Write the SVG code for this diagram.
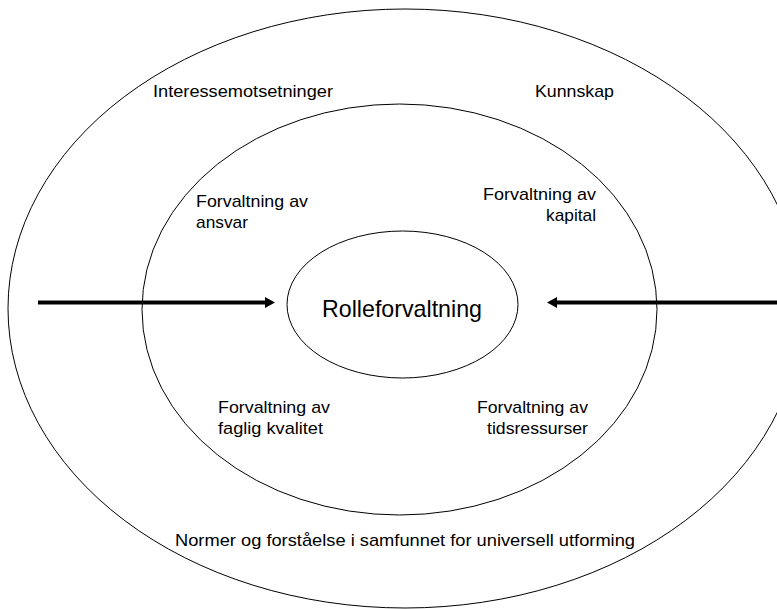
<svg xmlns="http://www.w3.org/2000/svg" width="777" height="609" viewBox="0 0 777 609">
  <style>
    .ring { fill: none; stroke: #000; stroke-width: 1; }
    .lbl { font-family: "Liberation Sans", Arial, sans-serif; font-size: 17px; fill: #000; }
    .big { font-family: "Liberation Sans", Arial, sans-serif; font-size: 24px; fill: #000; }
    .arrow { stroke: #000; stroke-width: 4; fill: none; }
  </style>
  <defs>
    <marker id="head" markerUnits="userSpaceOnUse" markerWidth="10" markerHeight="11" refX="2" refY="5.5" orient="auto">
      <path d="M0,0 L10,5.5 L0,11 z" fill="#000"/>
    </marker>
  </defs>
  <rect width="777" height="609" fill="#fff"/>

  <g id="outer">
    <ellipse class="ring" cx="405" cy="308.5" rx="397" ry="299.5"/>
    <text class="lbl" x="153" y="97" textLength="180" lengthAdjust="spacingAndGlyphs">Interessemotsetninger</text>
    <text class="lbl" x="535" y="97" textLength="79" lengthAdjust="spacingAndGlyphs">Kunnskap</text>
    <text class="lbl" x="175" y="546" textLength="460" lengthAdjust="spacingAndGlyphs">Normer og forståelse i samfunnet for universell utforming</text>
  </g>

  <g id="inner">
    <ellipse class="ring" cx="399.5" cy="309.5" rx="257.5" ry="205.5"/>
    <text class="lbl" x="196" y="207" textLength="112" lengthAdjust="spacingAndGlyphs">Forvaltning av</text>
    <text class="lbl" x="196" y="228" textLength="52" lengthAdjust="spacingAndGlyphs">ansvar</text>
    <text class="lbl" x="483" y="200" textLength="113" lengthAdjust="spacingAndGlyphs">Forvaltning av</text>
    <text class="lbl" x="546" y="221" textLength="50" lengthAdjust="spacingAndGlyphs">kapital</text>
    <text class="lbl" x="218" y="413" textLength="112" lengthAdjust="spacingAndGlyphs">Forvaltning av</text>
    <text class="lbl" x="218" y="434" textLength="105" lengthAdjust="spacingAndGlyphs">faglig kvalitet</text>
    <text class="lbl" x="477" y="413" textLength="111" lengthAdjust="spacingAndGlyphs">Forvaltning av</text>
    <text class="lbl" x="487" y="434" textLength="101" lengthAdjust="spacingAndGlyphs">tidsressurser</text>
  </g>

  <g id="center">
    <ellipse class="ring" cx="402.5" cy="304.5" rx="115.5" ry="73.5"/>
    <text class="big" x="322" y="317" textLength="160" lengthAdjust="spacingAndGlyphs">Rolleforvaltning</text>
  </g>

  <g id="connectors">
    <line class="arrow" x1="38" y1="302.5" x2="267" y2="302.5" marker-end="url(#head)"/>
    <line class="arrow" x1="777" y1="302.5" x2="555" y2="302.5" marker-end="url(#head)"/>
  </g>
</svg>
